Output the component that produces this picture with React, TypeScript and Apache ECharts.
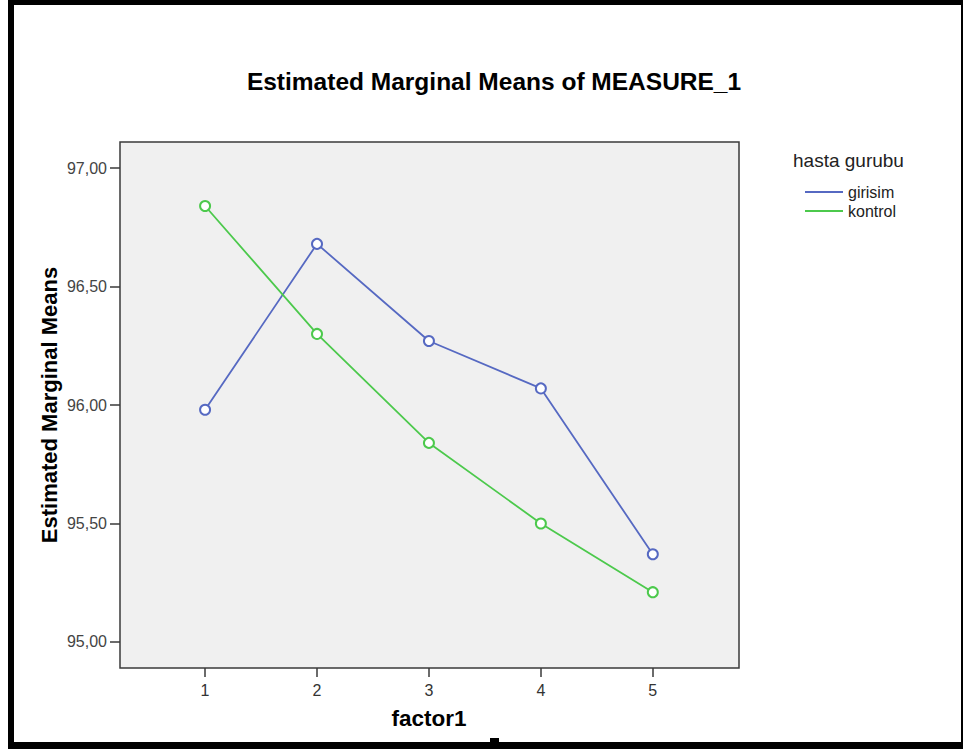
import React, { useEffect, useRef } from "react";
import * as echarts from "echarts";

const categories = [1, 2, 3, 4, 5];
const girisim = [95.98, 96.68, 96.27, 96.07, 95.37];
const kontrol = [96.84, 96.3, 95.84, 95.5, 95.21];
const yTicks = [95, 95.5, 96, 96.5, 97];
const seriesNames = ["girisim", "kontrol"];

const BLUE = "#5669c2";
const GREEN = "#4cc94c";
const FONT = "'Liberation Sans', Arial, sans-serif";

export default function App() {
  const ref = useRef<HTMLDivElement>(null);
  useEffect(() => {
    if (!ref.current) return;
    const chart = echarts.init(ref.current, undefined, { renderer: "svg" });
    const fmt = (v: number) => v.toFixed(2).replace(".", ",");
    chart.setOption({
      animation: false,
      backgroundColor: "#ffffff",
      textStyle: { fontFamily: FONT },
      grid: {
        left: 120,
        top: 142,
        width: 619,
        height: 526,
        show: true,
        backgroundColor: "#f0f0f0",
        borderColor: "#3a3a3a",
        borderWidth: 1.5,
        containLabel: false,
      },
      xAxis: {
        type: "value",
        min: 0.24,
        max: 5.77,
        splitLine: { show: false },
        axisLine: { show: false },
        axisTick: {
          show: true,
          length: 9,
          customValues: categories,
          lineStyle: { color: "#3a3a3a", width: 1.5 },
        },
        axisLabel: {
          customValues: categories,
          margin: 14,
          color: "#333",
          fontSize: 16,
          fontFamily: FONT,
          formatter: (v: number) => String(v),
        },
      },
      yAxis: {
        type: "value",
        min: 94.89,
        max: 97.11,
        splitLine: { show: false },
        axisLine: { show: false },
        axisTick: {
          show: true,
          length: 10,
          customValues: yTicks,
          lineStyle: { color: "#3a3a3a", width: 1.5 },
        },
        axisLabel: {
          customValues: yTicks,
          margin: 13,
          color: "#444",
          fontSize: 16,
          fontFamily: FONT,
          formatter: (v: number) => fmt(v),
        },
      },
      legend: {
        orient: "vertical",
        left: 805,
        top: 184,
        padding: 0,
        itemWidth: 38,
        itemHeight: 2,
        itemGap: 3,
        icon: "rect",
        data: seriesNames,
        textStyle: { fontSize: 16, color: "#222", fontFamily: FONT },
      },
      series: [
        {
          name: seriesNames[0],
          type: "line",
          data: categories.map((c, i) => [c, girisim[i]]),
          color: BLUE,
          symbol: "emptyCircle",
          symbolSize: 10,
          lineStyle: { width: 1.8, color: BLUE },
          itemStyle: { color: BLUE, borderWidth: 1.5 },
        },
        {
          name: seriesNames[1],
          type: "line",
          data: categories.map((c, i) => [c, kontrol[i]]),
          color: GREEN,
          symbol: "emptyCircle",
          symbolSize: 10,
          lineStyle: { width: 1.8, color: GREEN },
          itemStyle: { color: GREEN, borderWidth: 1.5 },
        },
      ],
      graphic: [
        { type: "rect", shape: { x: 8, y: 0, width: 6, height: 749 }, style: { fill: "#000" } },
        { type: "rect", shape: { x: 8, y: 0, width: 955, height: 5 }, style: { fill: "#000" } },
        { type: "rect", shape: { x: 961, y: 0, width: 2, height: 749 }, style: { fill: "#000" } },
        { type: "rect", shape: { x: 8, y: 742, width: 955, height: 7 }, style: { fill: "#000" } },
        { type: "rect", shape: { x: 490, y: 738, width: 9, height: 5 }, style: { fill: "#000" } },
        {
          type: "text",
          x: 494,
          y: 81,
          style: {
            text: "Estimated Marginal Means of MEASURE_1",
            fontSize: 24.5,
            fontWeight: "bold",
            fontFamily: FONT,
            fill: "#000",
            align: "center",
            verticalAlign: "middle",
          },
        },
        {
          type: "text",
          x: 49,
          y: 405,
          rotation: Math.PI / 2,
          style: {
            text: "Estimated Marginal Means",
            fontSize: 22,
            fontWeight: "bold",
            fontFamily: FONT,
            fill: "#000",
            align: "center",
            verticalAlign: "middle",
          },
        },
        {
          type: "text",
          x: 429,
          y: 718,
          style: {
            text: "factor1",
            fontSize: 22.5,
            fontWeight: "bold",
            fontFamily: FONT,
            fill: "#000",
            align: "center",
            verticalAlign: "middle",
          },
        },
        {
          type: "text",
          x: 793,
          y: 160,
          style: {
            text: "hasta gurubu",
            fontSize: 19,
            fontFamily: FONT,
            fill: "#222",
            align: "left",
            verticalAlign: "middle",
          },
        },
      ],
    });
    return () => chart.dispose();
  }, []);
  return (
    <div
      ref={ref}
      style={{ position: "fixed", left: 0, top: 0, width: 963, height: 749 }}
    />
  );
}
